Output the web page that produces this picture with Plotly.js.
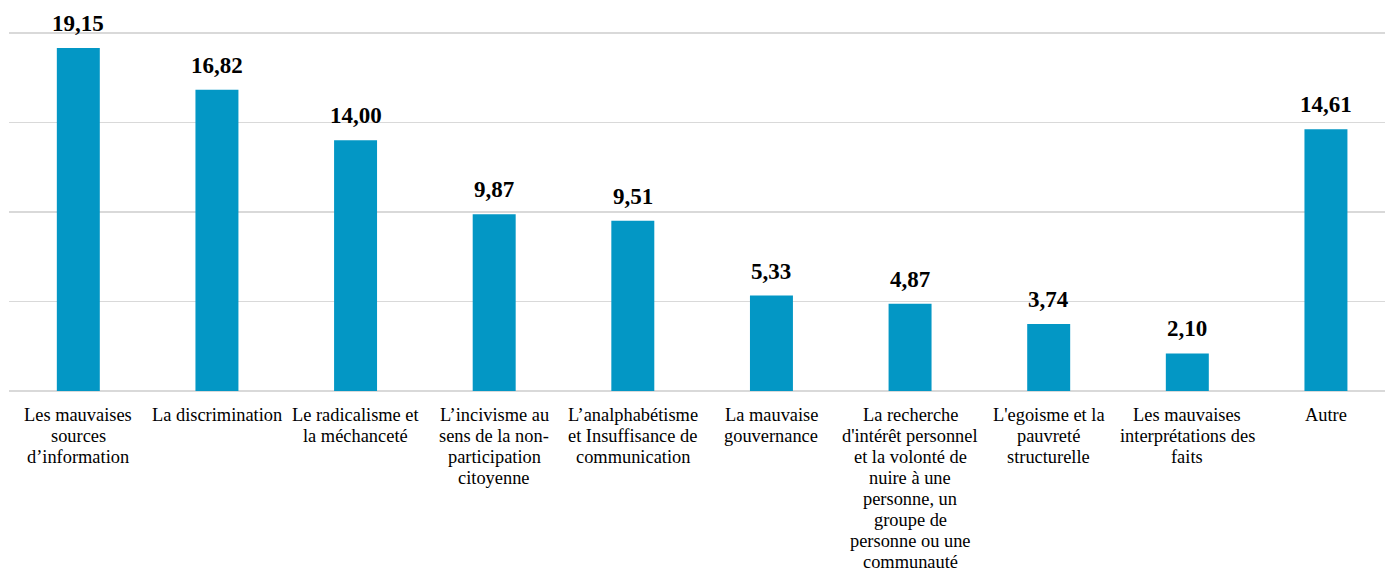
<!DOCTYPE html>
<html>
<head>
<meta charset="utf-8">
<script src="https://cdn.plot.ly/plotly-3.0.1.min.js"></script>
<style>html,body{margin:0;padding:0;background:#fff;}#chart{width:1385px;height:573px;}</style>
</head>
<body>
<div id="chart"></div>
<script>
const categories = [
  "Les mauvaises<br>sources<br>d’information",
  "La discrimination",
  "Le radicalisme et<br>la méchanceté",
  "L’incivisme au<br>sens de la non-<br>participation<br>citoyenne",
  "L’analphabétisme<br>et Insuffisance de<br>communication",
  "La mauvaise<br>gouvernance",
  "La recherche<br>d'intérêt personnel<br>et la volonté de<br>nuire à une<br>personne, un<br>groupe de<br>personne ou une<br>communauté",
  "L'egoisme et la<br>pauvreté<br>structurelle",
  "Les mauvaises<br>interprétations des<br>faits",
  "Autre"
];
const values = [19.15, 16.82, 14.00, 9.87, 9.51, 5.33, 4.87, 3.74, 2.10, 14.61];
const valueLabels = values.map(v => v.toFixed(2).replace('.', ','));

const SERIF = 'Liberation Serif, Times New Roman, serif';

const trace = {
  type: 'bar',
  x: categories,
  y: values,
  marker: {color: '#0397C5'},
  hoverinfo: 'none'
};

const annotations = [];
// value labels above bars
categories.forEach((c, i) => {
  annotations.push({
    x: c, y: values[i], xref: 'x', yref: 'y',
    text: '<b>' + valueLabels[i] + '</b>',
    showarrow: false, yanchor: 'bottom', yshift: 10,
    font: {family: SERIF, size: 23, color: '#000'}
  });
});
// category labels (one annotation per line for tighter line spacing)
const LABEL_SIZE = 18.4, FIRST_OFFSET = 23.5, LINE_STEP = 21.1;
categories.forEach((c) => {
  c.split('<br>').forEach((line, j) => {
    annotations.push({
      x: c, xref: 'x', y: 0, yref: 'paper',
      yanchor: 'middle', xanchor: 'center',
      yshift: -(FIRST_OFFSET + j * LINE_STEP),
      text: line, showarrow: false,
      font: {family: SERIF, size: LABEL_SIZE, color: '#000'}
    });
  });
});

const layout = {
  width: 1385, height: 573,
  font: {family: SERIF, color: '#000'},
  margin: {l: 9, r: 0, t: 31, b: 182},
  paper_bgcolor: '#fff', plot_bgcolor: '#fff',
  bargap: 0.69,
  showlegend: false,
  xaxis: {
    type: 'category',
    range: [-0.5, 9.426],
    showgrid: false, zeroline: false, showline: false,
    ticks: '', showticklabels: false,
    fixedrange: true
  },
  yaxis: {
    range: [0, 20.1],
    dtick: 5, tick0: 0,
    showticklabels: false,
    showgrid: true, gridcolor: '#d9d9d9', gridwidth: 1.5,
    zeroline: true, zerolinecolor: '#d9d9d9', zerolinewidth: 1.5,
    showline: false, ticks: '',
    fixedrange: true
  },
  annotations: annotations
};

Plotly.newPlot('chart', [trace], layout, {displayModeBar: false, staticPlot: true});
</script>
</body>
</html>
